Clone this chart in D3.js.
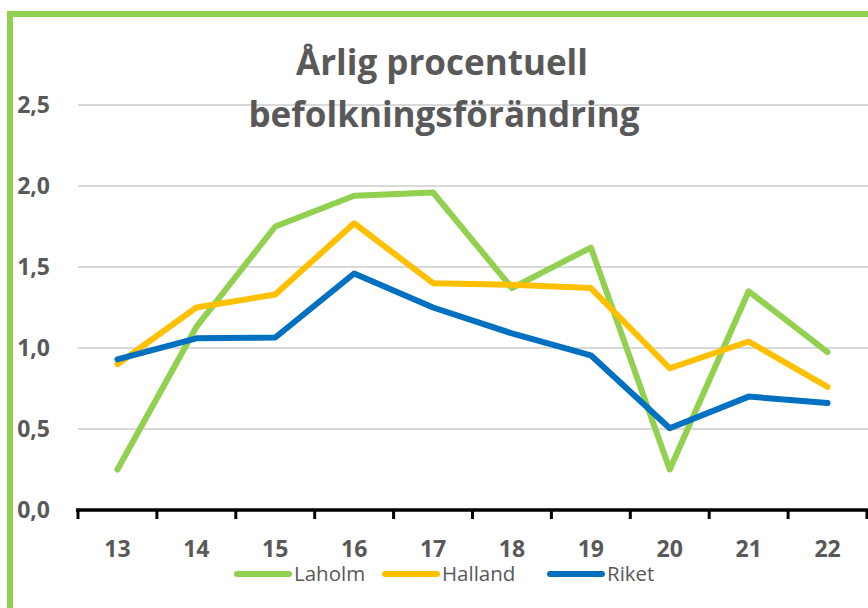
<!DOCTYPE html>
<html>
<head>
<meta charset="utf-8">
<script src="https://cdn.jsdelivr.net/npm/d3@7"></script>
<style>
  html, body { margin: 0; padding: 0; background: #fff; }
  svg { display: block; }
</style>
</head>
<body>
<svg id="chart"></svg>
<script>
// Data
const years = ["13", "14", "15", "16", "17", "18", "19", "20", "21", "22"];
const laholm  = [0.25, 1.13, 1.75, 1.94, 1.96, 1.37, 1.62, 0.25, 1.35, 0.975];
const halland = [0.90, 1.25, 1.33, 1.77, 1.40, 1.39, 1.37, 0.875, 1.04, 0.76];
const riket   = [0.93, 1.06, 1.065, 1.46, 1.25, 1.09, 0.955, 0.505, 0.70, 0.66];
const yTicks = [0, 0.5, 1.0, 1.5, 2.0, 2.5];
const seriesNames = ["Laholm", "Halland", "Riket"];
const seriesColors = ["#92D050", "#FFC000", "#0070C0"];

const width = 868, height = 608;
const svg = d3.select("#chart")
    .attr("width", width)
    .attr("height", height);

// cadre vert
svg.append("rect")
    .attr("x", 10).attr("y", 14)
    .attr("width", width + 20).attr("height", height + 20)
    .attr("fill", "none")
    .attr("stroke", "#92D050")
    .attr("stroke-width", 6);

const x = d3.scaleBand()
    .domain(years)
    .range([78, 867]);

const y = d3.scaleLinear()
    .domain([0, 2.5])
    .range([510, 105]);

const textColor = "#595959";
const font = "'Open Sans', sans-serif";

// grille
svg.append("g")
    .selectAll("line")
    .data(yTicks.filter(d => d > 0))
    .join("line")
    .attr("x1", 78).attr("x2", width)
    .attr("y1", d => y(d)).attr("y2", d => y(d))
    .attr("stroke", "#D9D9D9")
    .attr("stroke-width", 2);

// etiquettes Y
svg.append("g")
    .selectAll("text")
    .data(yTicks)
    .join("text")
    .attr("x", 50)
    .attr("y", d => y(d))
    .attr("dy", "0.36em")
    .attr("text-anchor", "end")
    .attr("font-family", font)
    .attr("font-weight", "bold")
    .attr("font-size", 23)
    .attr("fill", textColor)
    .text(d => d3.format(".1f")(d).replace(".", ","));

// titre
const title = svg.append("text")
    .attr("text-anchor", "middle")
    .attr("font-family", font)
    .attr("font-weight", "bold")
    .attr("font-size", 35)
    .attr("fill", textColor);
title.append("tspan").attr("x", 442).attr("y", 75).text("Årlig procentuell");
title.append("tspan").attr("x", 444).attr("y", 127).text("befolkningsförändring");

// lignes
const line = d3.line()
    .x((d, i) => x(years[i]) + x.bandwidth() / 2)
    .y(d => y(d));

[laholm, halland, riket].forEach((values, k) => {
    svg.append("path")
        .datum(values)
        .attr("d", line)
        .attr("fill", "none")
        .attr("stroke", seriesColors[k])
        .attr("stroke-width", 6)
        .attr("stroke-linejoin", "round")
        .attr("stroke-linecap", "round");
});

// axe X
const xAxis = svg.append("g");
xAxis.append("line")
    .attr("x1", 76).attr("x2", width)
    .attr("y1", y(0)).attr("y2", y(0))
    .attr("stroke", "#000")
    .attr("stroke-width", 3.5);
const edges = years.map(d => x(d)).concat([x(years[years.length - 1]) + x.step()]);
xAxis.selectAll(".tick")
    .data(edges)
    .join("line")
    .attr("class", "tick")
    .attr("x1", d => d).attr("x2", d => d)
    .attr("y1", y(0)).attr("y2", y(0) + 9)
    .attr("stroke", "#000")
    .attr("stroke-width", 3);
xAxis.selectAll(".lbl")
    .data(years)
    .join("text")
    .attr("class", "lbl")
    .attr("x", d => x(d) + x.bandwidth() / 2)
    .attr("y", 557)
    .attr("text-anchor", "middle")
    .attr("font-family", font)
    .attr("font-weight", "bold")
    .attr("font-size", 23)
    .attr("fill", textColor)
    .text(d => d);

// légende
const legendX = [237, 385, 550];
const legend = svg.append("g");
seriesNames.forEach((name, k) => {
    legend.append("line")
        .attr("x1", legendX[k]).attr("x2", legendX[k] + 52)
        .attr("y1", 574).attr("y2", 574)
        .attr("stroke", seriesColors[k])
        .attr("stroke-width", 6)
        .attr("stroke-linecap", "round");
    legend.append("text")
        .attr("x", legendX[k] + 57)
        .attr("y", 581)
        .attr("font-family", font)
        .attr("font-size", 20.5)
        .attr("fill", textColor)
        .text(name);
});
</script>
</body>
</html>
